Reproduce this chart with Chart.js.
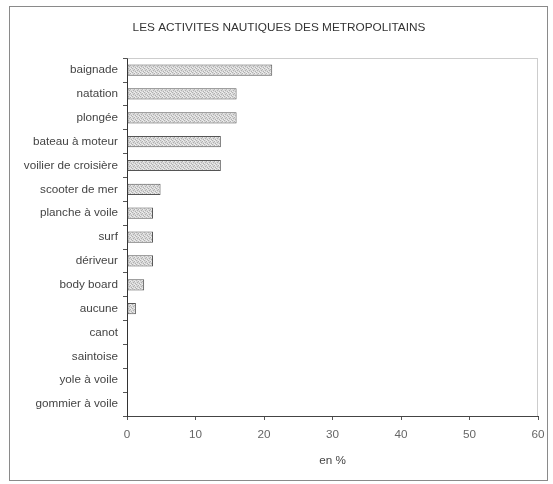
<!DOCTYPE html>
<html>
<head>
<meta charset="utf-8">
<script src="https://cdn.jsdelivr.net/npm/chart.js@4/dist/chart.umd.min.js"></script>
<style>
html,body{margin:0;padding:0;background:#fff;}
#wrap{width:553px;height:484px;position:relative;}
</style>
</head>
<body>
<div id="wrap"><canvas id="c" width="553" height="484"></canvas></div>
<script>
const categories = ["baignade","natation","plongée","bateau à moteur","voilier de croisière","scooter de mer","planche à voile","surf","dériveur","body board","aucune","canot","saintoise","yole à voile","gommier à voile"];
const values = [21.2, 16, 16, 13.7, 13.7, 4.9, 3.8, 3.8, 3.8, 2.5, 1.3, 0, 0, 0, 0];
const xTicks = [0, 10, 20, 30, 40, 50, 60];
const chartTitle = "LES ACTIVITES NAUTIQUES DES METROPOLITAINS";
const xTitle = "en %";

// stippled gray fill pattern
function makePattern(){
  const p = document.createElement('canvas');
  p.width = 4; p.height = 4;
  const g = p.getContext('2d');
  g.fillStyle = '#d8d8d8'; g.fillRect(0,0,4,4);
  g.fillStyle = '#b0b0b0';
  [[0,0],[2,1],[1,2],[3,3]].forEach(([x,y])=>g.fillRect(x,y,1,1));
  g.fillStyle = '#eeeeee';
  [[2,0],[0,3],[3,1]].forEach(([x,y])=>g.fillRect(x,y,1,1));
  return g.createPattern(p,'repeat');
}

const framePlugin = {
  id:'frame',
  beforeDraw(chart){
    const ctx = chart.ctx;
    ctx.save();
    ctx.fillStyle = '#fff';
    ctx.fillRect(0,0,chart.width,chart.height);
    ctx.strokeStyle = '#8a8a8a';
    ctx.lineWidth = 1;
    ctx.strokeRect(9.5,6.5,538,474);
    ctx.restore();
  },
  afterDraw(chart){
    const a = chart.chartArea, ctx = chart.ctx;
    ctx.save();
    ctx.strokeStyle = '#9a9a9a';
    ctx.lineWidth = 1;
    ctx.setLineDash([1,1]);
    ctx.beginPath();
    ctx.moveTo(Math.round(a.left)+0.5, Math.round(a.top)+0.5);
    ctx.lineTo(Math.round(a.right)-0.5, Math.round(a.top)+0.5);
    ctx.lineTo(Math.round(a.right)-0.5, Math.round(a.bottom)+0.5);
    ctx.stroke();
    ctx.restore();
  }
};

const FONT = 'Liberation Sans, Arial, sans-serif';

new Chart(document.getElementById('c'), {
  type:'bar',
  data:{
    labels: categories,
    datasets:[{
      data: values,
      backgroundColor: makePattern(),
      borderColor:'#555',
      borderWidth:1,
      borderSkipped:false,
      barPercentage:0.47,
      categoryPercentage:1
    }]
  },
  options:{
    indexAxis:'y',
    responsive:false,
    animation:false,
    devicePixelRatio:1,
    layout:{padding:{left:20,right:15,top:21,bottom:16}},
    plugins:{
      legend:{display:false},
      tooltip:{enabled:false},
      title:{
        display:true,
        text:chartTitle,
        color:'#333',
        font:{family:FONT,size:11.8,weight:'normal'},
        padding:{top:0,bottom:23}
      }
    },
    scales:{
      x:{
        min:0,max:60,
        afterBuildTicks(s){ s.ticks = xTicks.map(v=>({value:v})); },
        afterFit(s){ s.height = 52; },
        grid:{drawOnChartArea:false,drawTicks:true,tickLength:4,color:'#555'},
        border:{display:true,color:'#444',width:1},
        ticks:{color:'#666',padding:8,font:{family:FONT,size:11.7}},
        title:{display:true,text:xTitle,color:'#444',font:{family:FONT,size:11.7},padding:{top:6,bottom:0}}
      },
      y:{
        afterFit(s){ s.width = 107; },
        grid:{drawOnChartArea:false,drawTicks:true,tickLength:4,color:'#555',offset:true},
        border:{display:true,color:'#333',width:1},
        ticks:{color:'#444',padding:5,autoSkip:false,font:{family:FONT,size:11.7}}
      }
    }
  },
  plugins:[framePlugin]
});
</script>
</body>
</html>
